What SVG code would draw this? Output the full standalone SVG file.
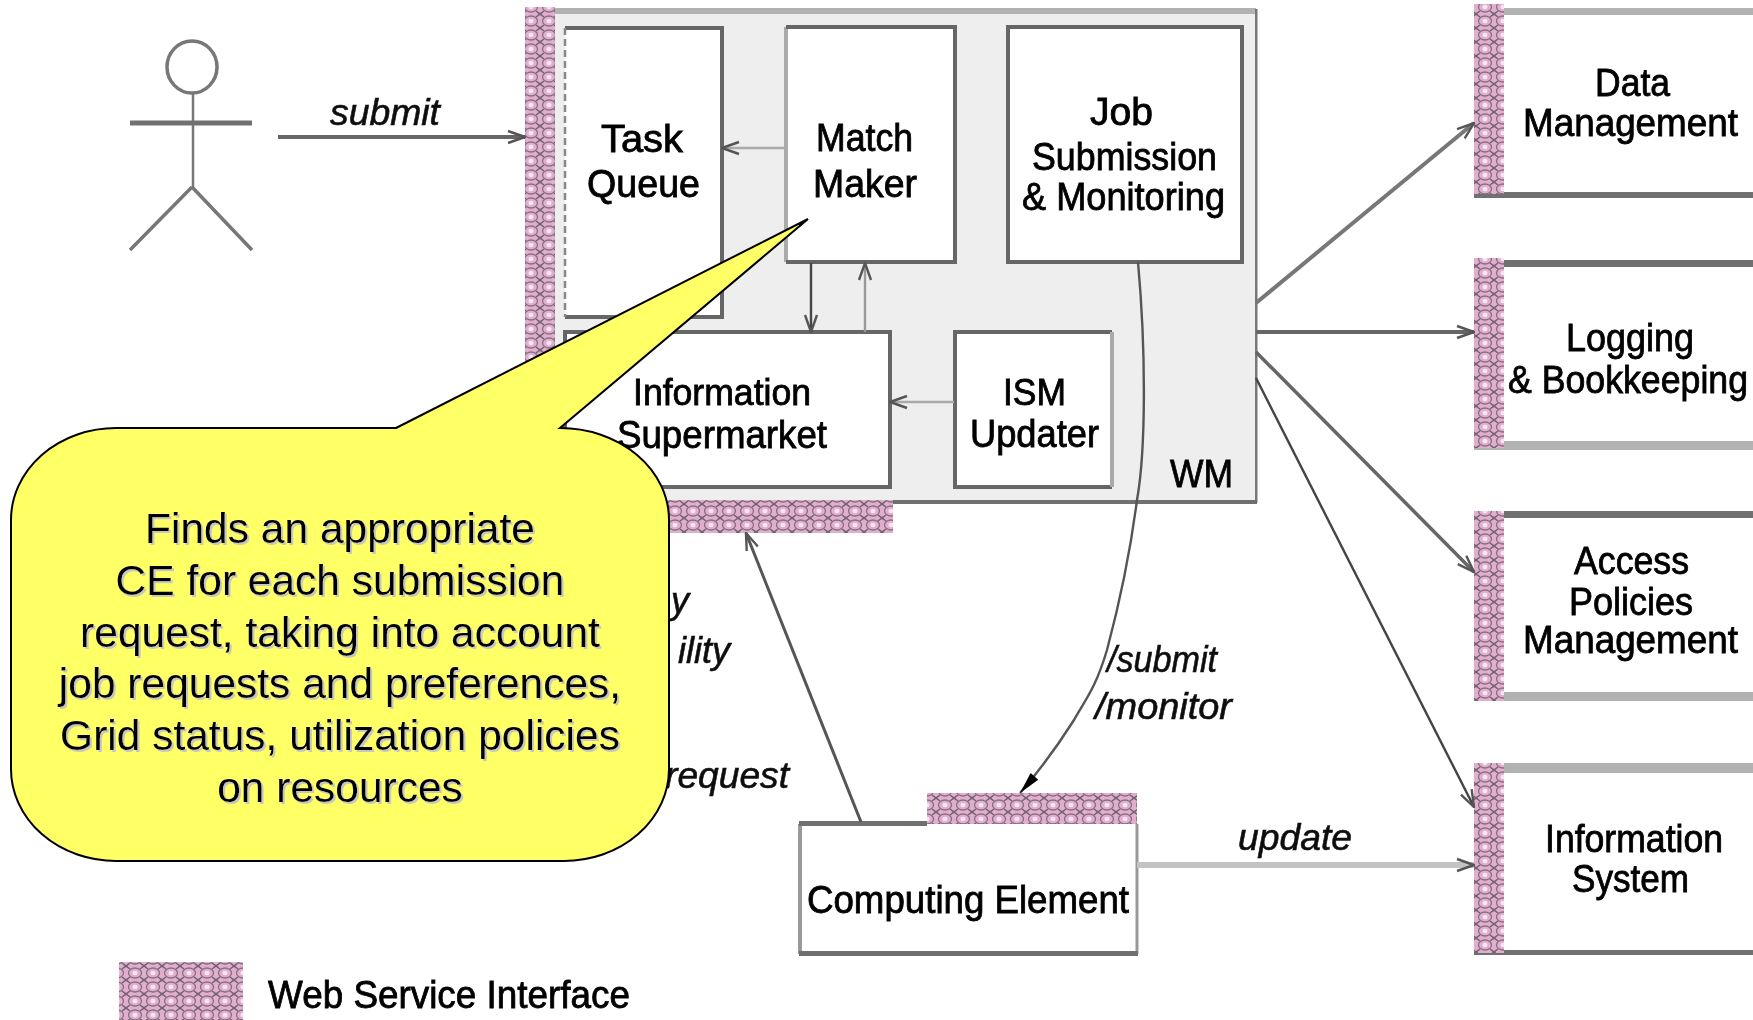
<svg xmlns="http://www.w3.org/2000/svg" width="1753" height="1020" viewBox="0 0 1753 1020">
<style>
text{font-family:"Liberation Sans",Arial,sans-serif;fill:#000}
.n{font-size:38px;text-anchor:start;stroke:#000;stroke-width:.8}
.i{font-size:36px;font-style:italic;fill:#111;stroke:#111;stroke-width:.6}
.box{fill:#fff;stroke:none}
.dk{fill:#707070}.lt{fill:#b2b2b2}
.wsi{fill:url(#wsi);stroke:none}
.c{fill:none;stroke:#666;stroke-width:2.4}
.call{font-size:42.5px;text-anchor:middle;fill:#000;filter:url(#sh)}
</style>
<defs>
<pattern id="wsi" width="18" height="14" patternUnits="userSpaceOnUse">
<rect width="18" height="14" fill="#e2aed0"/>
<ellipse cx="9" cy="7" rx="6.5" ry="5" fill="none" stroke="#84707e" stroke-width="1.3"/>
<ellipse cx="9" cy="7" rx="2.6" ry="2.2" fill="#f8e4f2"/>
<path d="M0 0L4 3M18 0L14 3M0 14L4 11M18 14L14 11" stroke="#6f626c" stroke-width="1.5"/>
</pattern>
<filter id="bl" x="-2%" y="-2%" width="104%" height="104%"><feGaussianBlur stdDeviation="0.65"/></filter>
<filter id="sh" x="-5%" y="-20%" width="110%" height="140%"><feDropShadow dx="2" dy="2" stdDeviation="0.2" flood-color="#c8c8c0"/></filter>
<marker id="o" viewBox="0 0 20 16" refX="19" refY="8" markerWidth="20" markerHeight="16" markerUnits="userSpaceOnUse" orient="auto"><path d="M2 2L19 8L2 14" fill="none" stroke="#555" stroke-width="2.4"/></marker>
<marker id="s" viewBox="0 0 24 16" refX="23" refY="8" markerWidth="24" markerHeight="16" markerUnits="userSpaceOnUse" orient="auto"><path d="M1 3L23 8L1 13Z" fill="#000"/></marker>
</defs>
<rect width="1753" height="1020" fill="#fff"/>
<g filter="url(#bl)">
<g id="actor" fill="none" stroke="#777">
<ellipse cx="192" cy="67" rx="25" ry="26" stroke-width="3.5"/>
<path d="M193 93V187" stroke-width="2.5"/>
<path d="M130 123H252" stroke-width="5" stroke="#707070"/>
<path d="M192 187L130 250M192 187L252 250" stroke-width="3.5"/>
</g>
<g id="wm">
<rect x="525" y="9" width="731" height="493" fill="#eee"/>
<rect x="554" y="8" width="702" height="6" class="lt"/>
<rect x="1255" y="9" width="2.5" height="494" fill="#777"/>
<rect x="525" y="500" width="732" height="4" class="dk"/>
<rect x="525" y="7" width="30" height="526" class="wsi"/>
<rect x="525" y="500" width="368" height="33" class="wsi"/>
<text class="n" x="1170" y="487" textLength="63" lengthAdjust="spacingAndGlyphs" style="font-size:39px">WM</text>
</g>
<g id="task-queue">
<rect x="565" y="28" width="157" height="289" class="box"/>
<path d="M565 28H722V317H565" fill="none" stroke="#666" stroke-width="4"/><path d="M565 28V317" stroke="#888" stroke-width="2.5" stroke-dasharray="7 4"/>
<text class="n" x="601" y="152" textLength="82" lengthAdjust="spacingAndGlyphs">Task</text>
<text class="n" x="587" y="197" textLength="113" lengthAdjust="spacingAndGlyphs">Queue</text>
</g>
<g id="match-maker">
<rect x="786" y="27" width="168" height="235" class="box"/>
<path d="M786 262V27" stroke="#aaa" stroke-width="4"/><path d="M786 27H955V262H786" fill="none" stroke="#666" stroke-width="4"/>
<text class="n" x="816" y="151" textLength="97" lengthAdjust="spacingAndGlyphs">Match</text>
<text class="n" x="813" y="197" textLength="104" lengthAdjust="spacingAndGlyphs">Maker</text>
</g>
<g id="job-submission">
<rect x="1008" y="27" width="234" height="235" class="box"/>
<rect x="1008" y="27" width="234" height="235" fill="none" stroke="#666" stroke-width="4"/>
<text class="n" x="1090" y="125" textLength="63" lengthAdjust="spacingAndGlyphs">Job</text>
<text class="n" x="1032" y="170" textLength="185" lengthAdjust="spacingAndGlyphs">Submission</text>
<text class="n" x="1022" y="210" textLength="203" lengthAdjust="spacingAndGlyphs">&amp; Monitoring</text>
</g>
<g id="information-supermarket">
<rect x="565" y="332" width="325" height="155" class="box"/>
<rect x="565" y="332" width="325" height="155" fill="none" stroke="#666" stroke-width="4"/>
<text class="n" x="633" y="405" textLength="178" lengthAdjust="spacingAndGlyphs" style="font-size:36px">Information</text>
<text class="n" x="617" y="448" textLength="210" lengthAdjust="spacingAndGlyphs">Supermarket</text>
</g>
<g id="ism-updater">
<rect x="955" y="332" width="157" height="155" class="box"/>
<path d="M1112 332H955V487H1112" fill="none" stroke="#666" stroke-width="4"/><path d="M1112 332V487" stroke="#aaa" stroke-width="4"/>
<text class="n" x="1003" y="405" textLength="63" lengthAdjust="spacingAndGlyphs" style="font-size:36px">ISM</text>
<text class="n" x="970" y="447" textLength="129" lengthAdjust="spacingAndGlyphs">Updater</text>
</g>
<g id="data-management">
<rect x="1474" y="8" width="279" height="189" class="box"/>
<rect x="1503" y="8" width="250" height="7" class="lt"/><rect x="1474" y="192" width="279" height="6" class="dk"/>
<rect x="1474" y="4" width="30" height="190" class="wsi"/>
<text class="n" x="1595" y="96" textLength="75" lengthAdjust="spacingAndGlyphs">Data</text>
<text class="n" x="1523" y="136" textLength="215" lengthAdjust="spacingAndGlyphs">Management</text>
</g>
<g id="logging-bookkeeping">
<rect x="1503" y="260" width="250" height="7" class="dk"/><rect x="1474" y="441" width="279" height="9" class="lt"/>
<rect x="1474" y="258" width="30" height="190" class="wsi"/>
<text class="n" x="1566" y="351" textLength="128" lengthAdjust="spacingAndGlyphs">Logging</text>
<text class="n" x="1508" y="393" textLength="240" lengthAdjust="spacingAndGlyphs">&amp; Bookkeeping</text>
</g>
<g id="access-policies">
<rect x="1503" y="511" width="250" height="7" class="dk"/><rect x="1474" y="692" width="279" height="9" class="lt"/>
<rect x="1474" y="511" width="30" height="190" class="wsi"/>
<text class="n" x="1574" y="574" textLength="115" lengthAdjust="spacingAndGlyphs">Access</text>
<text class="n" x="1569" y="615" textLength="124" lengthAdjust="spacingAndGlyphs">Policies</text>
<text class="n" x="1523" y="653" textLength="215" lengthAdjust="spacingAndGlyphs">Management</text>
</g>
<g id="information-system">
<rect x="1503" y="763" width="250" height="10" class="lt"/><rect x="1474" y="950" width="279" height="5" class="dk"/>
<rect x="1474" y="763" width="30" height="190" class="wsi"/>
<text class="n" x="1545" y="852" textLength="178" lengthAdjust="spacingAndGlyphs">Information</text>
<text class="n" x="1572" y="892" textLength="117" lengthAdjust="spacingAndGlyphs">System</text>
</g>
<g id="computing-element">
<rect x="800" y="824" width="337" height="130" class="box"/>
<path d="M800 824V954" stroke="#999" stroke-width="4"/><path d="M1137 824V954" stroke="#999" stroke-width="3"/>
<rect x="799" y="821" width="128" height="5" class="dk"/><rect x="799" y="951" width="339" height="5" class="dk"/>
<rect x="927" y="793" width="210" height="31" class="wsi"/>
<text class="n" x="807" y="913" textLength="322" lengthAdjust="spacingAndGlyphs">Computing Element</text>
</g>
<g id="legend">
<rect x="119" y="962" width="124" height="58" class="wsi"/>
<text class="n" x="268" y="1008" textLength="362" lengthAdjust="spacingAndGlyphs">Web Service Interface</text>
</g>
<g id="connectors">
<path class="c" d="M278 137H525" style="stroke-width:4" marker-end="url(#o)"/>
<path class="c" d="M785 148H722" style="stroke:#aaa" marker-end="url(#o)"/>
<path class="c" d="M811 263V332" style="stroke:#444" marker-end="url(#o)"/>
<path class="c" d="M865 332V263" style="stroke:#999" marker-end="url(#o)"/>
<path class="c" d="M954 402H890" style="stroke:#aaa" marker-end="url(#o)"/>
<path class="c" d="M1256 303L1474 123" style="stroke-width:4;stroke:#777" marker-end="url(#o)"/>
<path class="c" d="M1256 332H1474" style="stroke-width:4" marker-end="url(#o)"/>
<path class="c" d="M1256 352L1474 572" style="stroke-width:3.5;stroke:#666" marker-end="url(#o)"/>
<path class="c" d="M1256 378L1474 807" marker-end="url(#o)" style="stroke:#444"/>
<path class="c" d="M1138 262C1146 350 1146 450 1137 500C1128 570 1115 620 1107 650C1095 690 1085 700 1074 720C1055 750 1040 770 1020 793" style="stroke:#555" marker-end="url(#s)"/>
<path class="c" d="M861 822L746 533" style="stroke:#555;stroke-width:3" marker-end="url(#o)"/>
<path class="c" d="M1137 865H1474" style="stroke:#c4c4c4;stroke-width:6" marker-end="url(#o)"/>
</g>
<g id="labels">
<text class="i" x="330" y="125" textLength="110" lengthAdjust="spacingAndGlyphs">submit</text>
<text class="i" x="1107" y="672" textLength="110" lengthAdjust="spacingAndGlyphs">/submit</text>
<text class="i" x="1095" y="719" textLength="137" lengthAdjust="spacingAndGlyphs">/monitor</text>
<text class="i" x="1238" y="850" textLength="114" lengthAdjust="spacingAndGlyphs">update</text>
<text class="i" x="689" y="613" text-anchor="end">y</text>
<text class="i" x="730" y="663" text-anchor="end">ility</text>
<text class="i" x="665" y="788" textLength="124" lengthAdjust="spacingAndGlyphs">request</text>
</g>
</g>
<g id="callout">
<path d="M396 428L808 219L560 428A109 92 0 0 1 669 520V769A105 92 0 0 1 564 861H116A105 92 0 0 1 11 769V520A105 92 0 0 1 116 428Z" fill="#ffff66" stroke="#000" stroke-width="2" stroke-linejoin="miter"/>
<text class="call" x="340" y="543">Finds an appropriate</text>
<text class="call" x="340" y="595">CE for each submission</text>
<text class="call" x="340" y="647">request, taking into account</text>
<text class="call" x="340" y="698">job requests and preferences,</text>
<text class="call" x="340" y="750">Grid status, utilization policies</text>
<text class="call" x="340" y="802">on resources</text>
</g>
</svg>
